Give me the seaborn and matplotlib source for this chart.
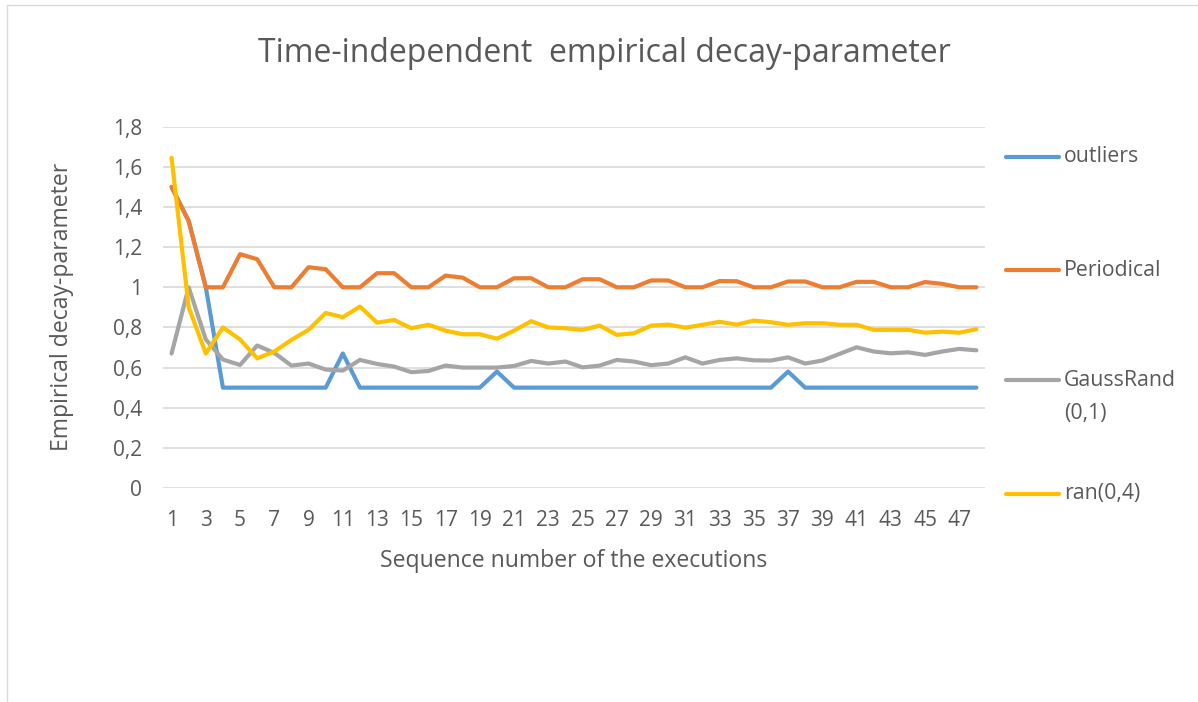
import pandas as pd
import matplotlib.pyplot as plt
from matplotlib.lines import Line2D
from matplotlib.ticker import FuncFormatter
import seaborn as sns

# values
runs = list(range(1, 49))
outliers = [1.5, 1.33, 1.0, 0.5, 0.5, 0.5, 0.5, 0.5, 0.5, 0.5,
            0.67, 0.5, 0.5, 0.5, 0.5, 0.5, 0.5, 0.5, 0.5, 0.58,
            0.5, 0.5, 0.5, 0.5, 0.5, 0.5, 0.5, 0.5, 0.5, 0.5,
            0.5, 0.5, 0.5, 0.5, 0.5, 0.5, 0.58, 0.5, 0.5, 0.5,
            0.5, 0.5, 0.5, 0.5, 0.5, 0.5, 0.5, 0.5]
periodical = [1.5, 1.33, 1.0, 1.0, 1.165, 1.14, 1.0, 1.0, 1.10, 1.09,
              1.0, 1.0, 1.07, 1.07, 1.0, 1.0, 1.058, 1.048, 1.0, 1.0,
              1.045, 1.045, 1.0, 1.0, 1.04, 1.04, 1.0, 1.0, 1.034, 1.034,
              1.0, 1.0, 1.031, 1.03, 1.0, 1.0, 1.029, 1.029, 1.0, 1.0,
              1.027, 1.027, 1.0, 1.0, 1.026, 1.017, 1.0, 1.0]
gauss_rand = [0.67, 1.0, 0.74, 0.64, 0.613, 0.71, 0.673, 0.61, 0.62, 0.59,
              0.585, 0.638, 0.618, 0.605, 0.577, 0.583, 0.61, 0.60, 0.60, 0.60,
              0.608, 0.633, 0.62, 0.63, 0.601, 0.61, 0.638, 0.63, 0.612, 0.62,
              0.651, 0.62, 0.638, 0.646, 0.636, 0.635, 0.651, 0.62, 0.635, 0.668,
              0.701, 0.68, 0.671, 0.676, 0.663, 0.68, 0.693, 0.686]
ran_04 = [1.645, 0.9, 0.67, 0.80, 0.74, 0.646, 0.68, 0.738, 0.788, 0.872,
          0.851, 0.904, 0.824, 0.837, 0.796, 0.813, 0.784, 0.766, 0.766, 0.744,
          0.784, 0.831, 0.80, 0.796, 0.788, 0.809, 0.763, 0.771, 0.809, 0.814,
          0.799, 0.813, 0.828, 0.814, 0.834, 0.826, 0.813, 0.821, 0.821, 0.813,
          0.813, 0.788, 0.788, 0.788, 0.774, 0.779, 0.774, 0.791]

series_names = ['outliers', 'Periodical', 'GaussRand\n(0,1)', 'ran(0,4)']
series_values = [outliers, periodical, gauss_rand, ran_04]
colors = ['#5B9BD5', '#ED7D31', '#A5A5A5', '#FFC000']

df = pd.concat([pd.DataFrame({'run': runs, 'value': vals, 'series': name})
                for name, vals in zip(series_names, series_values)])

sns.set_theme(style='white')
plt.rcParams['font.family'] = ['Open Sans', 'DejaVu Sans']
text_col = '#595959'

fig = plt.figure(figsize=(11.98, 7.02), dpi=100)
ax = fig.add_axes([163 / 1198, 1 - 488 / 702, 822 / 1198, 361.3 / 702])

sns.lineplot(data=df, x='run', y='value', hue='series', hue_order=series_names,
             palette=colors, linewidth=3.0, sort=False, legend=False, ax=ax)

ax.set_xlim(0.5, 48.5)
ax.set_ylim(0, 1.8)
ax.set_yticks([i / 5 for i in range(10)])
ax.set_xticks(runs[::2])
ax.yaxis.set_major_formatter(FuncFormatter(lambda v, p: f'{v:g}'.replace('.', ',')))
ax.grid(axis='y', color='#D9D9D9', linewidth=1.2)
ax.set_axisbelow(True)
for s in ax.spines.values():
    s.set_visible(False)
ax.tick_params(axis='both', length=0, labelsize=15, labelcolor=text_col)
ax.tick_params(axis='y', pad=15)
ax.tick_params(axis='x', pad=16)

ax.set_xlabel('Sequence number of the executions', fontsize=16.6, color=text_col, labelpad=12.5)
ax.set_ylabel('Empirical decay-parameter', fontsize=16.6, color=text_col, labelpad=28)
fig.text(604 / 1198, 1 - 54 / 702, 'Time-independent  empirical decay-parameter',
         ha='center', va='center', fontsize=23, color=text_col)

# legend on the right, Excel style
leg_y = [157, 270, 380, 494]
for name, col, yy in zip(series_names, colors, leg_y):
    fy = 1 - yy / 702
    fig.add_artist(Line2D([1006 / 1198, 1059 / 1198], [fy, fy], color=col,
                          linewidth=3.0, solid_capstyle='round'))
    if '\n' in name:
        first, second = name.split('\n')
        fig.text(1064 / 1198, fy, first, ha='left', va='center', fontsize=15.3, color=text_col)
        fig.text(1064 / 1198, fy - 33 / 702, second, ha='left', va='center',
                 fontsize=15.3, color=text_col)
    else:
        fig.text(1064 / 1198, fy, name, ha='left', va='center', fontsize=15.3, color=text_col)

# chart frame
fig.add_artist(Line2D([7 / 1198, 1.0], [1 - 5 / 702, 1 - 5 / 702], color='#D9D9D9', linewidth=1))
fig.add_artist(Line2D([7 / 1198, 7 / 1198], [0, 1 - 5 / 702], color='#D9D9D9', linewidth=1))

fig.savefig('out.png', dpi=100, facecolor='white')
